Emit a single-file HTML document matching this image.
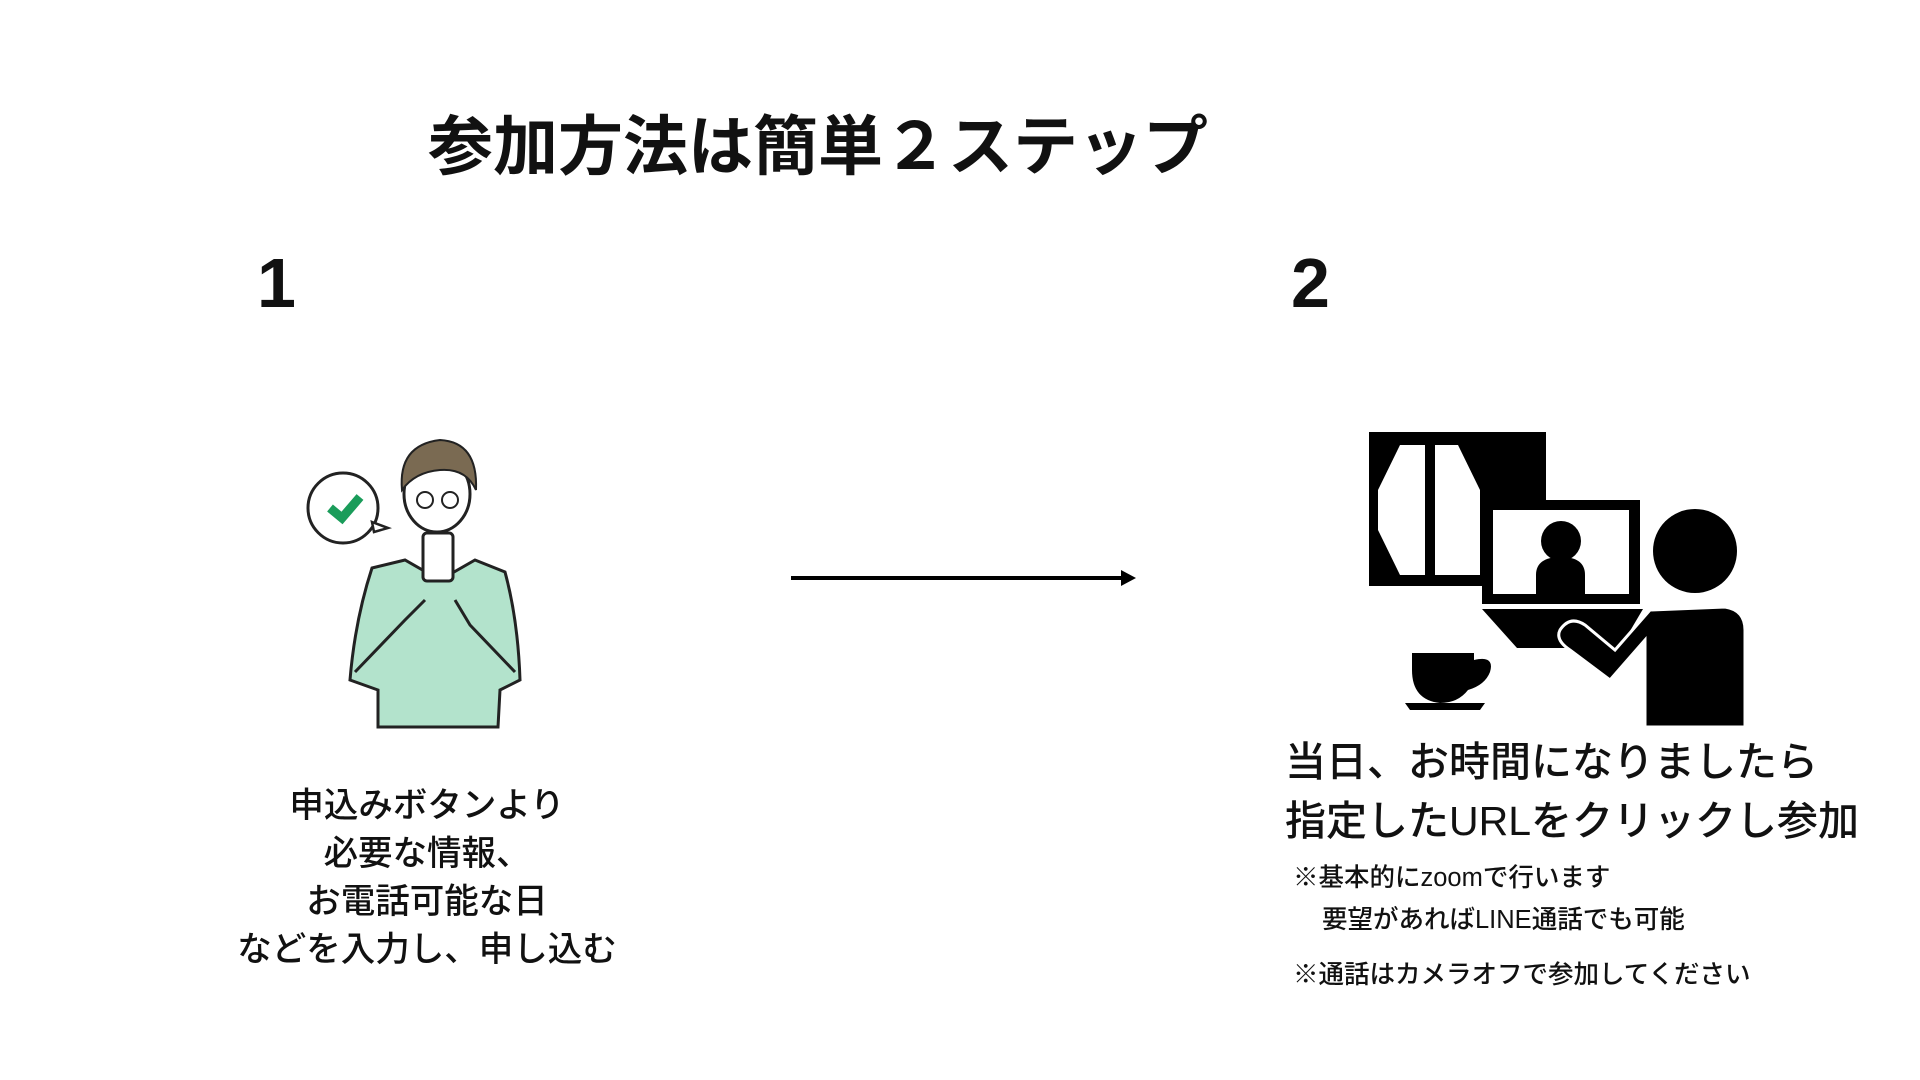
<!DOCTYPE html>
<html><head><meta charset="utf-8"><style>
body{margin:0;width:1920px;height:1080px;background:#fff;position:relative;overflow:hidden;font-family:"Liberation Sans","Noto Sans CJK JP",sans-serif;color:#111}
.t{position:absolute;white-space:nowrap;line-height:1}
</style></head><body>
<div class="t" style="left:428px;top:114px;font-size:65px;font-weight:bold;">参加方法は簡単２ステップ</div>
<div class="t" style="left:257px;top:248px;font-size:70px;font-weight:bold;">1</div>
<div class="t" style="left:1291px;top:248px;font-size:70px;font-weight:bold;">2</div>
<svg width="1920" height="1080" style="position:absolute;left:0;top:0">
<line x1="791" y1="578" x2="1125" y2="578" stroke="#000" stroke-width="4"/>
<polygon points="1121,570 1136,578 1121,586" fill="#000"/>
<!-- person 1 -->
<circle cx="343" cy="508" r="35" fill="#fff" stroke="#222" stroke-width="3"/>
<polygon points="372,522 388,528 374,532" fill="#fff" stroke="#222" stroke-width="2.5"/>
<polyline points="330,508 342,518 360,497" fill="none" stroke="#1a9c5a" stroke-width="9"/>
<path d="M372,568 L405,560 L440,580 L475,560 L505,572 Q518,620 520,680 L500,690 L498,727 L378,727 L378,690 L350,680 Q355,620 372,568Z" fill="#b3e3cc" stroke="#222" stroke-width="3"/>
<path d="M355,672 L405,620 L425,600 M515,672 L470,625 L455,600" fill="none" stroke="#222" stroke-width="3"/>
<rect x="423" y="533" width="30" height="48" rx="4" fill="#fff" stroke="#222" stroke-width="3"/>
<ellipse cx="437" cy="494" rx="33" ry="38" fill="#fff" stroke="#222" stroke-width="3"/>
<path d="M402,490 Q398,445 440,440 Q478,442 476,490 Q466,468 440,470 Q415,472 402,490Z" fill="#7a6a52" stroke="#222" stroke-width="2"/>
<circle cx="425" cy="500" r="8" fill="none" stroke="#222" stroke-width="2"/>
<circle cx="450" cy="500" r="8" fill="none" stroke="#222" stroke-width="2"/>
<!-- video icon -->
<rect x="1369" y="432" width="177" height="154" fill="#000"/>
<polygon points="1400,445 1425,445 1425,575 1400,575 1378,530 1378,490" fill="#fff"/>
<polygon points="1435,445 1458,445 1480,490 1480,575 1435,575" fill="#fff"/>
<rect x="1482" y="500" width="158" height="104" fill="#000"/>
<rect x="1493" y="510" width="136" height="84" fill="#fff"/>
<circle cx="1561" cy="541" r="20" fill="#000"/>
<path d="M1536,594 L1536,575 Q1536,557 1561,557 Q1585,557 1585,575 L1585,594Z" fill="#000"/>
<polygon points="1482,609 1643,609 1620,648 1517,648" fill="#000"/>
<circle cx="1695" cy="551" r="42" fill="#000"/>
<path d="M1645,727 L1645,640 L1610,680 L1570,650 Q1555,640 1560,630 Q1570,615 1585,625 L1615,650 L1650,610 L1725,607 Q1745,610 1745,630 L1745,727Z" fill="#000" stroke="#fff" stroke-width="3"/>
<path d="M1412,653 L1474,653 L1474,660 Q1495,655 1490,672 Q1485,685 1468,690 Q1458,703 1440,703 Q1412,700 1412,670Z" fill="#000"/>
<polygon points="1405,703 1485,703 1480,710 1410,710" fill="#000"/>
</svg>
<div class="t" style="left:227px;top:782px;width:400px;text-align:center;font-size:34.5px;line-height:48px;font-weight:500;">申込みボタンより<br>必要な情報、<br>お電話可能な日<br>などを入力し、申し込む</div>
<div class="t" style="left:1285px;top:733px;width:500px;text-align:center;font-size:41px;line-height:59px;font-weight:500;">当日、お時間になりましたら<br>指定したURLをクリックし参加</div>
<div class="t" style="left:1293px;top:866px;font-size:25.5px;font-weight:500;">※基本的にzoomで行います</div>
<div class="t" style="left:1322px;top:908px;font-size:25.5px;font-weight:500;">要望があればLINE通話でも可能</div>
<div class="t" style="left:1293px;top:963px;font-size:25.5px;font-weight:500;">※通話はカメラオフで参加してください</div>
</body></html>
